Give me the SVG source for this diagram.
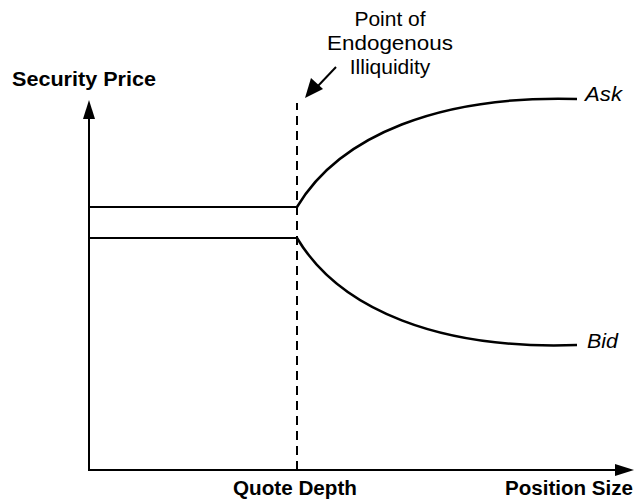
<svg xmlns="http://www.w3.org/2000/svg" width="634" height="500" viewBox="0 0 634 500">
<style>
.ax{stroke:#000;stroke-width:2;fill:none}
.cv{stroke:#000;stroke-width:2.5;fill:none}
.b{font-family:"Liberation Sans",Arial,sans-serif;font-weight:bold;font-size:20px;fill:#000}
.r{font-family:"Liberation Sans",Arial,sans-serif;font-size:21px;fill:#000}
.i{font-family:"Liberation Sans",Arial,sans-serif;font-style:italic;font-size:20px;fill:#000}
</style>
<rect width="634" height="500" fill="#fff"/>
<g id="connectors">
<path class="ax" d="M89,470 V118"/>
<path d="M89,100 L83,119 L95,119 Z" fill="#000"/>
<path class="ax" d="M88,470 H616"/>
<path d="M634,470 L615,464 L615,476 Z" fill="#000"/>
<path class="ax" d="M297,470 V103" stroke-dasharray="9,6"/>
<path class="ax" d="M89,207 H297"/>
<path class="ax" d="M89,238 H297"/>
<path class="cv" d="M297,207 C340,135 440,95 577,99"/>
<path class="cv" d="M297,238 C340,310 440,350 577,345"/>
<path stroke="#000" stroke-width="2" fill="none" d="M336,67 L317,87"/>
<path d="M305,98 L311,78 L323,89 Z" fill="#000"/>
</g>
<g id="security-price"><text class="b" x="12" y="86" textLength="144" lengthAdjust="spacingAndGlyphs">Security Price</text></g>
<g id="point-label">
<text class="r" x="390" y="26" text-anchor="middle">Point of</text>
<text class="r" x="390" y="50" text-anchor="middle" textLength="126" lengthAdjust="spacingAndGlyphs">Endogenous</text>
<text class="r" x="390" y="74" text-anchor="middle">Illiquidity</text>
</g>
<g id="ask"><text class="i" x="585" y="101" textLength="37" lengthAdjust="spacingAndGlyphs">Ask</text></g>
<g id="bid"><text class="i" x="587" y="348" textLength="31" lengthAdjust="spacingAndGlyphs">Bid</text></g>
<g id="quote-depth"><text class="b" x="233" y="495" textLength="124" lengthAdjust="spacingAndGlyphs">Quote Depth</text></g>
<g id="position-size"><text class="b" x="505" y="495" textLength="128" lengthAdjust="spacingAndGlyphs">Position Size</text></g>
</svg>
